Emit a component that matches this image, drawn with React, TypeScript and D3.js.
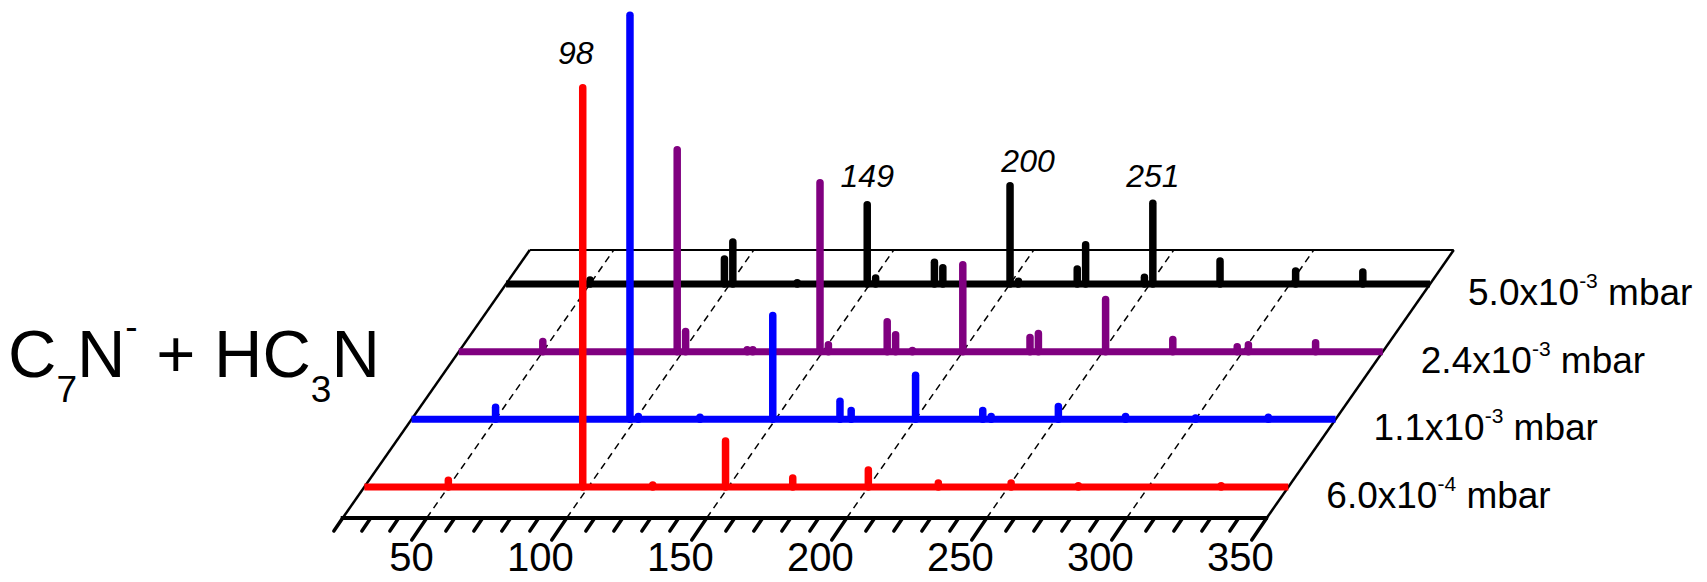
import React from 'react';
import * as d3 from 'd3';

const W = 1707;
const H = 582;

// pressure of each trace, front to back
const pressureMantissa = ['6.0', '1.1', '2.4', '5.0'];
const pressureExponent = ['-4', '-3', '-3', '-3'];
const rowColors = ['#ff0000', '#0000ff', '#800080', '#000000'];

// peaks: [m/z, relative intensity]
const peaks6e4: [number, number][] = [
  [50, 1.7], [98, 98.8], [123, 0.5], [149, 11.4], [173, 2.2], [200, 4.2],
  [225, 1.0], [251, 1.0], [275, 0.3], [326, 0.3],
];
const peaks1e3: [number, number][] = [
  [50, 3.0], [98, 100], [101, 0.7], [123, 0.5], [149, 25.7], [173, 4.5],
  [177, 2.2], [200, 10.9], [224, 2.2], [227, 0.7], [251, 3.2], [275, 0.7],
  [300, 0.3], [326, 0.5],
];
const peaks2e3: [number, number][] = [
  [50, 2.5], [98, 50.0], [101, 5.0], [123, 0.5], [125, 0.5], [149, 41.8],
  [152, 1.7], [173, 7.4], [176, 4.2], [182, 0.3], [200, 21.5], [224, 3.5],
  [227, 4.5], [251, 12.9], [275, 3.0], [298, 1.2], [302, 1.7], [326, 2.2],
];
const peaks5e3: [number, number][] = [
  [50, 1.0], [98, 6.2], [101, 10.4], [124, 0.3], [149, 19.6], [152, 1.5],
  [173, 5.4], [176, 4.0], [200, 24.3], [203, 0.7], [224, 3.7], [227, 9.7],
  [248, 1.7], [251, 20.0], [275, 5.7], [302, 3.2], [326, 3.0],
];
const rowPeaks = [peaks6e4, peaks1e3, peaks2e3, peaks5e3];

// annotated peaks: [row, m/z]
const peakLabels: [number, number][] = [[0, 98], [3, 149], [3, 200], [3, 251]];
const labelShift: Record<number, [number, number]> = {
  98: [-7, 20], 149: [0, 14], 200: [18, 10], 251: [0, 13],
};

const majorTicks = [50, 100, 150, 200, 250, 300, 350];

const FONT = "'Liberation Sans', Arial, sans-serif";

export default function App() {
  const axisY = 518;
  const depthMax = 268;
  const slant = 0.698;

  const x = d3.scaleLinear().domain([20, 350]).range([342.7, 1266.7]);
  const depth = d3.scalePoint<number>().domain(d3.range(4)).range([31, 234]);
  const y = d3.scaleLinear().domain([0, 100]).range([0, 404]);

  const px = (m: number, d: number) => x(m) + d * slant;
  const py = (d: number, v = 0) => axisY - d - y(v);

  const minorTicks = x.ticks(33);
  const [m0, m1] = x.domain();

  return (
    <svg width={W} height={H} style={{ position: 'absolute', left: 0, top: 0, background: '#fff' }}>
      {/* dashed grid through the depth plane */}
      {majorTicks.filter(t => t < m1).map(t => (
        <line key={'g' + t} x1={px(t, 0)} y1={py(0)} x2={px(t, depthMax)} y2={py(depthMax)}
          stroke="#000" strokeWidth={1.5} strokeDasharray="7,5" />
      ))}

      {/* frame */}
      <line x1={px(m0, depthMax)} y1={py(depthMax)} x2={px(m1, depthMax)} y2={py(depthMax)} stroke="#000" strokeWidth={2} />
      <line x1={px(m0, 0)} y1={py(0)} x2={px(m0, depthMax)} y2={py(depthMax)} stroke="#000" strokeWidth={2.5} />
      <line x1={px(m1, 0)} y1={py(0)} x2={px(m1, depthMax)} y2={py(depthMax)} stroke="#000" strokeWidth={2.5} />

      {/* m/z axis */}
      <line x1={x(m0) - 2} y1={axisY} x2={x(m1) + 1} y2={axisY} stroke="#000" strokeWidth={4} />
      {minorTicks.map(t => {
        const major = majorTicks.includes(t);
        const len = major ? 22 : 13;
        return (
          <line key={'t' + t} x1={x(t)} y1={axisY} x2={x(t) - len * 0.68} y2={axisY + len}
            stroke="#000" strokeWidth={3.5} strokeLinecap="round" />
        );
      })}
      {majorTicks.map(t => (
        <text key={'l' + t} x={x(t) + 7} y={571} textAnchor="end" fontSize={40} fontFamily={FONT}>
          {t}
        </text>
      ))}

      {/* spectra, back to front */}
      {d3.range(4).reverse().map(r => {
        const d = depth(r) as number;
        const c = rowColors[r];
        return (
          <g key={'s' + r}>
            <line x1={px(m0, d)} y1={py(d)} x2={px(m1, d)} y2={py(d)} stroke={c} strokeWidth={7} />
            {rowPeaks[r].map(([m, v]) => (
              <line key={m} x1={px(m, d)} y1={py(d)} x2={px(m, d)} y2={py(d, v)}
                stroke={c} strokeWidth={7.5} strokeLinecap="round" />
            ))}
          </g>
        );
      })}

      {/* peak annotations */}
      {peakLabels.map(([r, m]) => {
        const d = depth(r) as number;
        const v = rowPeaks[r].find(p => p[0] === m)![1];
        const [dx, gap] = labelShift[m];
        return (
          <text key={'p' + m} x={px(m, d) + dx} y={py(d, v) - 3.5 - gap} textAnchor="middle"
            fontSize={32} fontStyle="italic" fontFamily={FONT}>
            {m}
          </text>
        );
      })}

      {/* pressure labels */}
      {d3.range(4).map(r => {
        const d = depth(r) as number;
        return (
          <text key={'r' + r} x={px(m1, d) + 38} y={py(d) + 21} fontSize={37} fontFamily={FONT}
            style={{ whiteSpace: 'pre' }}>
            {pressureMantissa[r] + 'x10'}
            <tspan fontSize={21} dy={-17}>{pressureExponent[r]}</tspan>
            <tspan dy={17}>{' mbar'}</tspan>
          </text>
        );
      })}

      {/* reaction title */}
      <text x={8} y={377} fontSize={67} fontFamily={FONT} style={{ whiteSpace: 'pre' }}>
        C<tspan fontSize={37} dy={25}>7</tspan>
        <tspan dy={-25}>N</tspan>
        <tspan fontSize={37} dy={-38}>-</tspan>
        <tspan dy={38}>{' + HC'}</tspan>
        <tspan fontSize={37} dy={25}>3</tspan>
        <tspan dy={-25}>N</tspan>
      </text>
    </svg>
  );
}
